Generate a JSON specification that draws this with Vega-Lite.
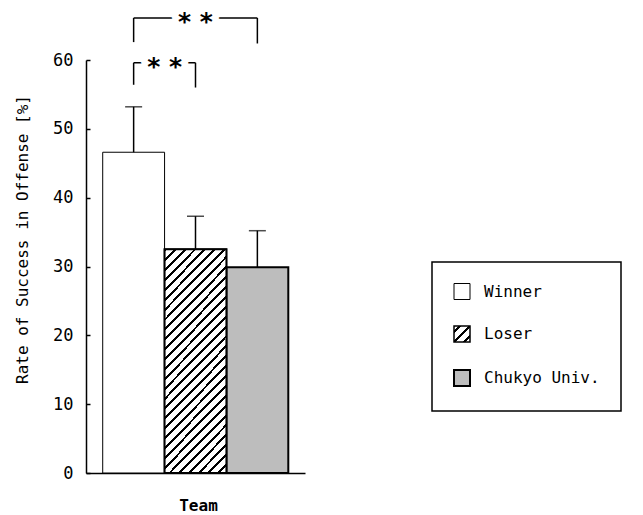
{
  "$schema": "https://vega.github.io/schema/vega-lite/v6.json",
  "width": 219,
  "height": 413,
  "autosize": {"type": "none"},
  "padding": {"left": 86, "top": 60, "right": 338, "bottom": 42},
  "background": "white",
  "config": {
    "view": {"stroke": null},
    "font": "DejaVu Sans Mono",
    "axisY": {
      "tickCount": 6, "tickSize": -4, "tickWidth": 1.5, "tickColor": "black",
      "domainColor": "black", "domainWidth": 1.5, "grid": false,
      "labelFont": "DejaVu Sans Mono", "labelFontSize": 17, "labelColor": "black", "labelPadding": 17,
      "titleFont": "DejaVu Sans Mono", "titleFontSize": 16, "titleFontWeight": "normal", "titleColor": "black",
      "titleX": -59, "titleY": 179, "titleAngle": 270, "titleAlign": "center", "titleBaseline": "alphabetic"
    },
    "axisX": {
      "labels": false, "ticks": false, "domainColor": "black", "domainWidth": 1.5, "grid": false,
      "titleFont": "DejaVu Sans Mono", "titleFontSize": 16, "titleFontWeight": "bold", "titleColor": "black",
      "titleX": 112, "titleY": 37, "titleBaseline": "alphabetic", "titleAlign": "center"
    },
    "legend": {"strokeWidth": 1.5}
  },
  "datasets": {
    "bars": [
      {"Team": "Winner", "rate": 46.6, "upper": 53.2},
      {"Team": "Loser", "rate": 32.5, "upper": 37.3},
      {"Team": "Chukyo Univ.", "rate": 29.9, "upper": 35.2}
    ],
    "brackets": [
      {"level": "inner", "from": "Winner", "to": "Loser", "mid": "Loser", "top": 59.6, "leftEnd": 56.4, "rightEnd": 56.0, "label": "* *"},
      {"level": "outer", "from": "Winner", "to": "Chukyo Univ.", "mid": "Loser", "top": 66.1, "leftEnd": 62.6, "rightEnd": 62.4, "label": "* *"}
    ]
  },
  "layer": [
    {
      "data": {"name": "bars"},
      "mark": {"type": "bar", "stroke": "black"},
      "encoding": {
        "x": {"field": "Team", "type": "nominal", "title": "Team", "sort": null,
              "scale": {"domain": ["Winner", "Loser", "Chukyo Univ."], "paddingInner": 0, "paddingOuter": 0.27}},
        "y": {"field": "rate", "type": "quantitative", "title": "Rate of Success in Offense  [%]",
              "scale": {"domain": [0, 60], "nice": false}},
        "fill": {"field": "Team", "type": "nominal",
                 "scale": {"domain": ["Winner", "Loser", "Chukyo Univ."],
                           "range": ["white",
                             {"expr": "{gradient: 'linear', x1: 0, y1: 0, x2: 1, y2: 1, stops: [{offset: 0, color: '#fff'}, {offset: 0.13, color: '#fff'}, {offset: 0.13, color: '#000'}, {offset: 0.23, color: '#000'}, {offset: 0.23, color: '#fff'}, {offset: 0.45, color: '#fff'}, {offset: 0.45, color: '#000'}, {offset: 0.55, color: '#000'}, {offset: 0.55, color: '#fff'}, {offset: 0.77, color: '#fff'}, {offset: 0.77, color: '#000'}, {offset: 0.87, color: '#000'}, {offset: 0.87, color: '#fff'}, {offset: 1, color: '#fff'}]}"},
                             "#bdbdbd"]},
                 "legend": {"title": null, "orient": "none", "legendX": 346, "legendY": 202,
                            "symbolType": "square", "symbolSize": 256, "symbolStrokeColor": "black", "symbolStrokeWidth": 1.5,
                            "labelFont": "DejaVu Sans Mono", "labelFontSize": 16, "labelColor": "black", "labelOffset": 13,
                            "rowPadding": 21, "padding": 21, "strokeColor": "black"}},
        "strokeWidth": {"field": "Team", "type": "ordinal", "legend": null,
                        "scale": {"domain": ["Winner", "Loser", "Chukyo Univ."], "range": [1, 2, 2]}}
      }
    },
    {
      "data": {"name": "bars"},
      "transform": [{"filter": "datum.Team === 'Loser'"}],
      "mark": {"type": "bar", "stroke": "black", "strokeWidth": 2,
               "fill": {"gradient": "linear", "x1": 0, "y1": 0, "x2": 0.334, "y2": 1.187, "stops": [
{"offset":0,"color":"#000"},{"offset":0.0103,"color":"#000"},{"offset":0.0103,"color":"#fff"},{"offset":0.0345,"color":"#fff"},
{"offset":0.0345,"color":"#000"},{"offset":0.0448,"color":"#000"},{"offset":0.0448,"color":"#fff"},{"offset":0.0690,"color":"#fff"},
{"offset":0.0690,"color":"#000"},{"offset":0.0793,"color":"#000"},{"offset":0.0793,"color":"#fff"},{"offset":0.1034,"color":"#fff"},
{"offset":0.1034,"color":"#000"},{"offset":0.1138,"color":"#000"},{"offset":0.1138,"color":"#fff"},{"offset":0.1379,"color":"#fff"},
{"offset":0.1379,"color":"#000"},{"offset":0.1483,"color":"#000"},{"offset":0.1483,"color":"#fff"},{"offset":0.1724,"color":"#fff"},
{"offset":0.1724,"color":"#000"},{"offset":0.1828,"color":"#000"},{"offset":0.1828,"color":"#fff"},{"offset":0.2069,"color":"#fff"},
{"offset":0.2069,"color":"#000"},{"offset":0.2172,"color":"#000"},{"offset":0.2172,"color":"#fff"},{"offset":0.2414,"color":"#fff"},
{"offset":0.2414,"color":"#000"},{"offset":0.2517,"color":"#000"},{"offset":0.2517,"color":"#fff"},{"offset":0.2759,"color":"#fff"},
{"offset":0.2759,"color":"#000"},{"offset":0.2862,"color":"#000"},{"offset":0.2862,"color":"#fff"},{"offset":0.3103,"color":"#fff"},
{"offset":0.3103,"color":"#000"},{"offset":0.3207,"color":"#000"},{"offset":0.3207,"color":"#fff"},{"offset":0.3448,"color":"#fff"},
{"offset":0.3448,"color":"#000"},{"offset":0.3552,"color":"#000"},{"offset":0.3552,"color":"#fff"},{"offset":0.3793,"color":"#fff"},
{"offset":0.3793,"color":"#000"},{"offset":0.3897,"color":"#000"},{"offset":0.3897,"color":"#fff"},{"offset":0.4138,"color":"#fff"},
{"offset":0.4138,"color":"#000"},{"offset":0.4241,"color":"#000"},{"offset":0.4241,"color":"#fff"},{"offset":0.4483,"color":"#fff"},
{"offset":0.4483,"color":"#000"},{"offset":0.4586,"color":"#000"},{"offset":0.4586,"color":"#fff"},{"offset":0.4828,"color":"#fff"},
{"offset":0.4828,"color":"#000"},{"offset":0.4931,"color":"#000"},{"offset":0.4931,"color":"#fff"},{"offset":0.5172,"color":"#fff"},
{"offset":0.5172,"color":"#000"},{"offset":0.5276,"color":"#000"},{"offset":0.5276,"color":"#fff"},{"offset":0.5517,"color":"#fff"},
{"offset":0.5517,"color":"#000"},{"offset":0.5621,"color":"#000"},{"offset":0.5621,"color":"#fff"},{"offset":0.5862,"color":"#fff"},
{"offset":0.5862,"color":"#000"},{"offset":0.5966,"color":"#000"},{"offset":0.5966,"color":"#fff"},{"offset":0.6207,"color":"#fff"},
{"offset":0.6207,"color":"#000"},{"offset":0.6310,"color":"#000"},{"offset":0.6310,"color":"#fff"},{"offset":0.6552,"color":"#fff"},
{"offset":0.6552,"color":"#000"},{"offset":0.6655,"color":"#000"},{"offset":0.6655,"color":"#fff"},{"offset":0.6897,"color":"#fff"},
{"offset":0.6897,"color":"#000"},{"offset":0.7000,"color":"#000"},{"offset":0.7000,"color":"#fff"},{"offset":0.7241,"color":"#fff"},
{"offset":0.7241,"color":"#000"},{"offset":0.7345,"color":"#000"},{"offset":0.7345,"color":"#fff"},{"offset":0.7586,"color":"#fff"},
{"offset":0.7586,"color":"#000"},{"offset":0.7690,"color":"#000"},{"offset":0.7690,"color":"#fff"},{"offset":0.7931,"color":"#fff"},
{"offset":0.7931,"color":"#000"},{"offset":0.8034,"color":"#000"},{"offset":0.8034,"color":"#fff"},{"offset":0.8276,"color":"#fff"},
{"offset":0.8276,"color":"#000"},{"offset":0.8379,"color":"#000"},{"offset":0.8379,"color":"#fff"},{"offset":0.8621,"color":"#fff"},
{"offset":0.8621,"color":"#000"},{"offset":0.8724,"color":"#000"},{"offset":0.8724,"color":"#fff"},{"offset":0.8966,"color":"#fff"},
{"offset":0.8966,"color":"#000"},{"offset":0.9069,"color":"#000"},{"offset":0.9069,"color":"#fff"},{"offset":0.9310,"color":"#fff"},
{"offset":0.9310,"color":"#000"},{"offset":0.9414,"color":"#000"},{"offset":0.9414,"color":"#fff"},{"offset":0.9655,"color":"#fff"},
{"offset":0.9655,"color":"#000"},{"offset":0.9759,"color":"#000"},{"offset":0.9759,"color":"#fff"},{"offset":1,"color":"#fff"}
               ]}},
      "encoding": {
        "x": {"field": "Team", "type": "nominal", "title": "Team"},
        "y": {"field": "rate", "type": "quantitative", "title": "Rate of Success in Offense  [%]"}
      }
    },
    {
      "data": {"name": "bars"},
      "mark": {"type": "rule", "color": "black", "strokeWidth": 1.5},
      "encoding": {
        "x": {"field": "Team", "type": "nominal", "title": "Team"},
        "y": {"field": "rate", "type": "quantitative", "title": "Rate of Success in Offense  [%]"},
        "y2": {"field": "upper"}
      }
    },
    {
      "data": {"name": "bars"},
      "mark": {"type": "tick", "color": "black", "size": 17, "thickness": 1.5},
      "encoding": {
        "x": {"field": "Team", "type": "nominal", "title": "Team"},
        "y": {"field": "upper", "type": "quantitative", "title": "Rate of Success in Offense  [%]"}
      }
    },
    {
      "data": {"name": "brackets"},
      "mark": {"type": "rule", "color": "black", "strokeWidth": 1.5},
      "encoding": {
        "x": {"field": "from", "type": "nominal", "title": "Team"},
        "x2": {"field": "to"},
        "y": {"field": "top", "type": "quantitative", "title": "Rate of Success in Offense  [%]"}
      }
    },
    {
      "data": {"name": "brackets"},
      "mark": {"type": "rule", "color": "black", "strokeWidth": 1.5},
      "encoding": {
        "x": {"field": "from", "type": "nominal", "title": "Team"},
        "y": {"field": "top", "type": "quantitative", "title": "Rate of Success in Offense  [%]"},
        "y2": {"field": "leftEnd"}
      }
    },
    {
      "data": {"name": "brackets"},
      "mark": {"type": "rule", "color": "black", "strokeWidth": 1.5},
      "encoding": {
        "x": {"field": "to", "type": "nominal", "title": "Team"},
        "y": {"field": "top", "type": "quantitative", "title": "Rate of Success in Offense  [%]"},
        "y2": {"field": "rightEnd"}
      }
    },
    {
      "data": {"name": "brackets"},
      "transform": [{"filter": "datum.level === 'inner'"}],
      "mark": {"type": "text", "font": "DejaVu Sans", "fontWeight": "bold", "fontSize": 25, "baseline": "alphabetic", "dy": 12,
               "fill": "white", "stroke": "white", "strokeWidth": 10},
      "encoding": {
        "x": {"field": "mid", "type": "nominal", "title": "Team", "bandPosition": 0},
        "y": {"field": "top", "type": "quantitative", "title": "Rate of Success in Offense  [%]"},
        "text": {"field": "label"}
      }
    },
    {
      "data": {"name": "brackets"},
      "transform": [{"filter": "datum.level === 'inner'"}],
      "mark": {"type": "text", "font": "DejaVu Sans", "fontWeight": "bold", "fontSize": 25, "baseline": "alphabetic", "dy": 12, "fill": "black"},
      "encoding": {
        "x": {"field": "mid", "type": "nominal", "title": "Team", "bandPosition": 0},
        "y": {"field": "top", "type": "quantitative", "title": "Rate of Success in Offense  [%]"},
        "text": {"field": "label"}
      }
    },
    {
      "data": {"name": "brackets"},
      "transform": [{"filter": "datum.level === 'outer'"}],
      "mark": {"type": "text", "font": "DejaVu Sans", "fontWeight": "bold", "fontSize": 25, "baseline": "alphabetic", "dy": 12,
               "fill": "white", "stroke": "white", "strokeWidth": 10},
      "encoding": {
        "x": {"field": "mid", "type": "nominal", "title": "Team", "bandPosition": 0.5},
        "y": {"field": "top", "type": "quantitative", "title": "Rate of Success in Offense  [%]"},
        "text": {"field": "label"}
      }
    },
    {
      "data": {"name": "brackets"},
      "transform": [{"filter": "datum.level === 'outer'"}],
      "mark": {"type": "text", "font": "DejaVu Sans", "fontWeight": "bold", "fontSize": 25, "baseline": "alphabetic", "dy": 12, "fill": "black"},
      "encoding": {
        "x": {"field": "mid", "type": "nominal", "title": "Team", "bandPosition": 0.5},
        "y": {"field": "top", "type": "quantitative", "title": "Rate of Success in Offense  [%]"},
        "text": {"field": "label"}
      }
    }
  ]
}
